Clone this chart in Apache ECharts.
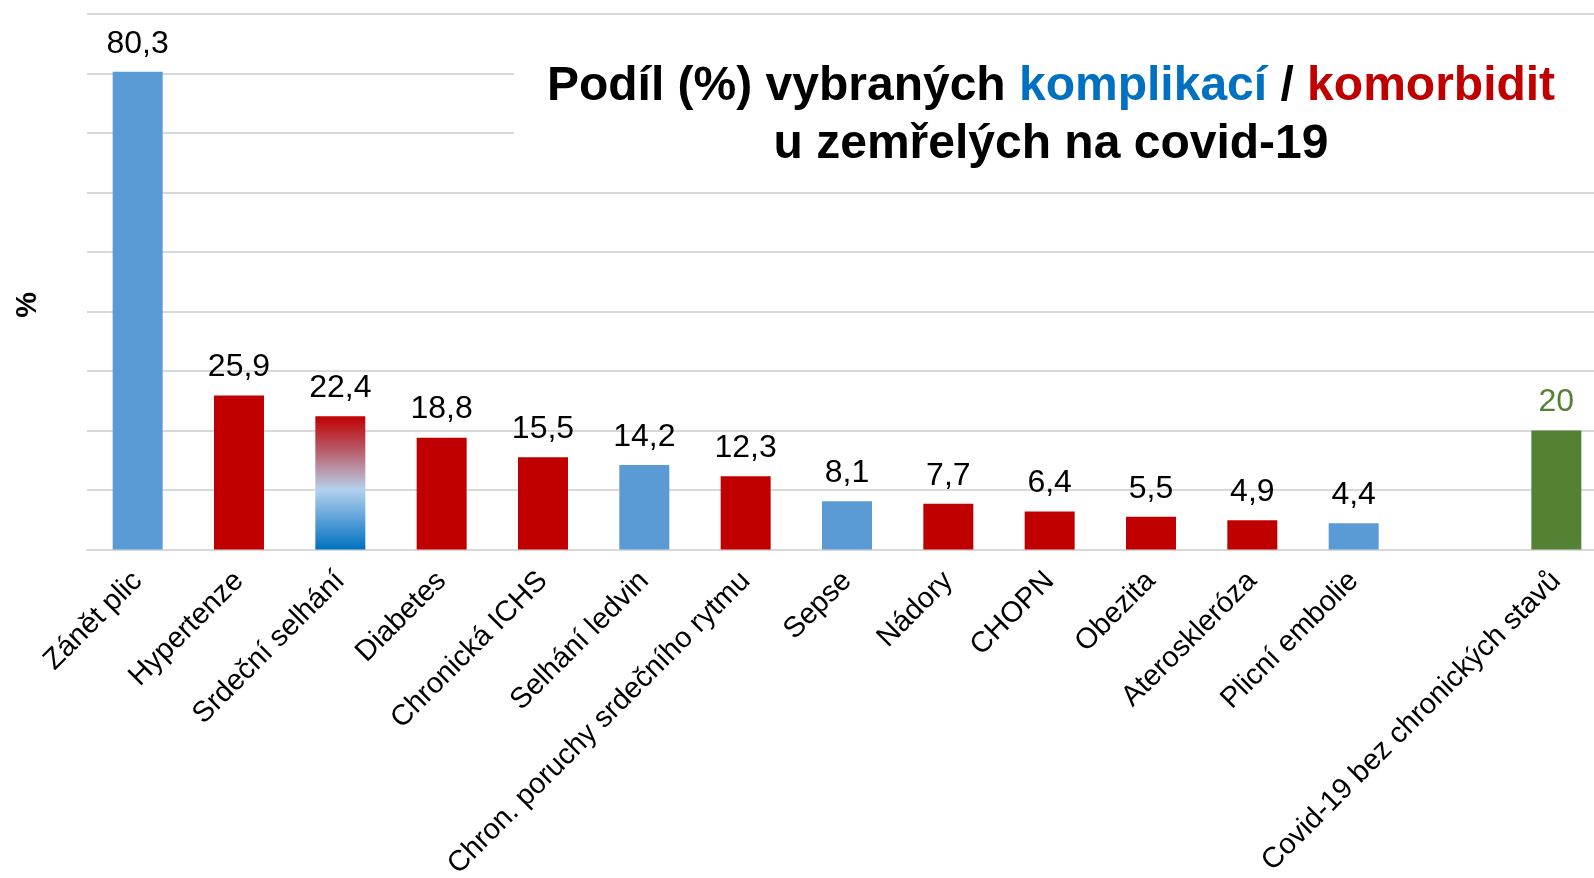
<!DOCTYPE html>
<html>
<head>
<meta charset="utf-8">
<script src="https://cdn.jsdelivr.net/npm/echarts@6/dist/echarts.min.js"></script>
<style>
html,body{margin:0;padding:0;background:#fff;}
#c{width:1594px;height:878px;}
</style>
</head>
<body>
<div id="c"></div>
<script>
const categories = ['Zánět plic','Hypertenze','Srdeční selhání','Diabetes','Chronická ICHS','Selhání ledvin','Chron. poruchy srdečního rytmu','Sepse','Nádory','CHOPN','Obezita','Ateroskleróza','Plicní embolie','','Covid-19 bez chronických stavů'];
const values = [80.3,25.9,22.4,18.8,15.5,14.2,12.3,8.1,7.7,6.4,5.5,4.9,4.4,null,20];
// kind: k = komplikace, m = komorbidita, km = both, n = none
const kinds = ['k','m','km','m','m','k','m','k','m','m','m','m','k','', 'n'];
const yTicks = [0,10,20,30,40,50,60,70,80,90];

const FONT = '"Liberation Sans", Arial, Helvetica, sans-serif';
const colorFor = {
  k: '#5B9BD5',
  m: '#C00000',
  n: '#548235',
  km: new echarts.graphic.LinearGradient(0,0,0,1,[
    {offset:0,color:'#C00000'},
    {offset:0.25,color:'#B85A66'},
    {offset:0.45,color:'#B9A9BE'},
    {offset:0.55,color:'#B4D1EE'},
    {offset:1,color:'#0070C0'}
  ])
};

const seriesData = values.map((v,i)=>({
  value: v,
  itemStyle:{color: colorFor[kinds[i]] || '#5B9BD5'},
  label:{color: kinds[i]==='n' ? '#548235' : '#000'}
}));

const chart = echarts.init(document.getElementById('c'), null, {renderer:'canvas'});
chart.setOption({
  animation:false,
  backgroundColor:'#fff',
  textStyle:{fontFamily:FONT},
  grid:{left:87, top:14, width:1520, height:535.5, containLabel:false, outerBoundsMode:'none'},
  title:{
    z:200,
    left:1046, top:53, textAlign:'center',
    text:'{b|Podíl (%) vybraných }{bl|komplikací}{b| / }{r|komorbidit}\n{b|u zemřelých na covid-19}',
    textStyle:{
      rich:{
        b:{fontFamily:FONT,fontWeight:'bold',fontSize:48,color:'#000',lineHeight:58},
        bl:{fontFamily:FONT,fontWeight:'bold',fontSize:48,color:'#0070C0',lineHeight:58},
        r:{fontFamily:FONT,fontWeight:'bold',fontSize:48,color:'#C00000',lineHeight:58}
      }
    }
  },
  graphic:[{
    type:'rect', z:100,
    shape:{x:514, y:24, width:1080, height:158},
    style:{fill:'#fff'}
  }],
  xAxis:{
    type:'category',
    data:categories,
    axisLine:{show:true,lineStyle:{color:'#D9D9D9',width:2}},
    axisTick:{show:false},
    axisLabel:{interval:0, rotate:45, fontSize:29, color:'#000', fontFamily:FONT, margin:27}
  },
  yAxis:{
    type:'value', min:yTicks[0], max:yTicks[yTicks.length-1], interval:10,
    name:'%', nameLocation:'middle', nameRotate:90, nameGap:45,
    nameTextStyle:{fontSize:29,fontWeight:'bold',color:'#000',fontFamily:FONT,padding:[0,46,0,0]},
    axisLine:{show:false}, axisTick:{show:false},
    axisLabel:{show:false},
    splitLine:{show:true,lineStyle:{color:'#D9D9D9',width:2}}
  },
  series:[{
    type:'bar',
    data:seriesData,
    barWidth:50,
    label:{
      show:true, position:'top', distance:12,
      fontSize:32, fontFamily:FONT,
      formatter:p=> p.value==null ? '' : String(p.value).replace('.',',')
    }
  }]
});
</script>
</body>
</html>
